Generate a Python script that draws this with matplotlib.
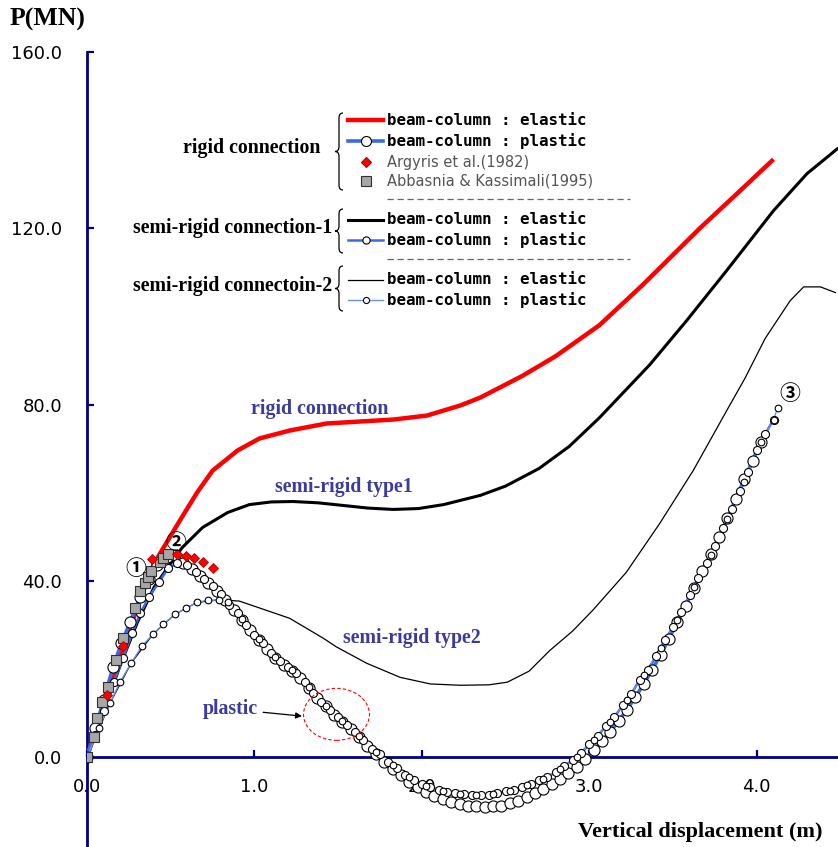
import matplotlib
matplotlib.use('Agg')
import matplotlib.pyplot as plt
from matplotlib.patches import Ellipse, PathPatch
from matplotlib.path import Path
from matplotlib.lines import Line2D

# ---- data (x: vertical displacement m, y: P in MN) ----

# rigid connection, beam-column elastic
rig_el_x = [0, 0.1, 0.2, 0.3, 0.39, 0.436, 0.555, 0.657, 0.75, 0.9, 1.03, 1.21, 1.43, 1.83,
            2.03, 2.23, 2.35, 2.6, 2.8, 3.06, 3.32, 3.66, 3.9, 4.09]
rig_el_y = [0, 12, 23, 34, 43, 46.2, 53.7, 60, 65, 69.6, 72.3, 74.1, 75.7, 76.6,
            77.5, 79.8, 81.6, 86.5, 91, 98, 107.2, 120, 128.5, 135.3]

# semi-rigid connection-1, beam-column elastic
s1_el_x = [0, 0.1, 0.2, 0.3, 0.4, 0.5, 0.57, 0.69, 0.84, 0.97, 1.1, 1.23, 1.38, 1.53, 1.68,
           1.83, 1.98, 2.13, 2.35, 2.5, 2.7, 2.88, 3.06, 3.36, 3.58, 3.82, 4.1, 4.3, 4.48]
s1_el_y = [0, 10.5, 21, 30.5, 38.5, 44, 47.6, 52.1, 55.5, 57.3, 57.9, 58, 57.7, 57.1, 56.5,
           56.2, 56.4, 57.3, 59.4, 61.5, 65.5, 70.5, 77, 89, 99, 110.4, 124, 132.4, 138]

# semi-rigid connection-2, beam-column elastic
s2_el_x = [0, 0.137, 0.263, 0.394, 0.525, 0.657, 0.79, 0.91, 1.21, 1.41, 1.49, 1.67, 1.87,
           2.05, 2.23, 2.4, 2.51, 2.64, 2.764, 2.9, 3.02, 3.22, 3.42, 3.62, 3.82, 3.93, 4.05,
           4.2, 4.28, 4.38, 4.47]
s2_el_y = [0, 12.2, 21.3, 27.9, 32.4, 35.1, 35.7, 35.4, 31.5, 27, 25, 21.3, 18.1,
           16.6, 16.3, 16.4, 17, 19.5, 24.2, 28.6, 33.3, 41.9, 53, 65, 78.6, 86, 95,
           103.6, 106.7, 106.7, 105.4]

# rigid connection, beam-column plastic
rig_pl_x = [0, 0.05, 0.1, 0.155, 0.205, 0.257, 0.316, 0.37, 0.42, 0.475, 0.525,
            0.575, 0.625, 0.675, 0.725, 0.775, 0.825, 0.875, 0.925, 0.975, 1.025,
            1.075, 1.125, 1.175, 1.225, 1.275, 1.325, 1.375, 1.425, 1.475, 1.525,
            1.575, 1.625, 1.675, 1.725, 1.775, 1.825, 1.875, 1.925, 1.975, 2.025,
            2.075, 2.125, 2.175, 2.225, 2.275, 2.325, 2.375, 2.425, 2.475, 2.525,
            2.575, 2.625, 2.675, 2.725, 2.775, 2.825, 2.875, 2.925, 2.975, 3.025,
            3.075, 3.125, 3.175, 3.225, 3.275, 3.325, 3.375, 3.425, 3.475, 3.525,
            3.575, 3.625, 3.675, 3.725, 3.775, 3.825, 3.875, 3.925, 3.975, 4.025]
rig_pl_y = [0, 6.5, 13, 20.4, 25.8, 30.6, 36.3, 40.5, 43.5, 45.5, 45.8,
            44.0, 42.6, 41.0, 39.5, 37.8, 35.6, 33.4, 31.0, 28.8, 26.6,
            24.6, 22.6, 21.0, 19.6, 18.0, 15.6, 13.4, 11.6, 9.6, 8.0,
            6.4, 4.6, 2.6, 0.6, -1.0, -2.6, -4.0, -5.6, -6.8, -7.9,
            -8.8, -9.5, -10.1, -10.6, -11.0, -11.2, -11.3, -11.2, -11.0, -10.5,
            -9.9, -9.1, -8.2, -7.3, -6.2, -5.0, -3.6, -2.2, -0.4, 1.5,
            3.6, 5.8, 8.2, 10.8, 13.6, 16.6, 19.8, 23.2, 26.8, 30.6,
            34.4, 38.4, 42.2, 46.0, 50.0, 54.2, 58.6, 63.0, 67.2, 71.5]

# semi-rigid connection-1, beam-column plastic
s1_pl_x = [0, 0.05, 0.1, 0.16, 0.215, 0.27, 0.317, 0.37, 0.43, 0.484, 0.537,
           0.60, 0.65, 0.70, 0.75, 0.80, 0.85, 0.90, 0.95, 1.00, 1.05, 1.10, 1.15,
           1.20, 1.25, 1.30, 1.35, 1.40, 1.45, 1.50, 1.55, 1.60, 1.65, 1.70, 1.75,
           1.80, 1.85, 1.90, 1.95, 2.00, 2.05, 2.10, 2.15, 2.20, 2.25, 2.30, 2.35,
           2.40, 2.45, 2.50, 2.55, 2.60, 2.65, 2.70, 2.75, 2.80, 2.85, 2.90, 2.95,
           3.00, 3.05, 3.10, 3.15, 3.20, 3.25, 3.30, 3.35, 3.40, 3.45, 3.50, 3.55,
           3.60, 3.65, 3.70, 3.75, 3.80, 3.85, 3.90, 3.95, 4.00, 4.05, 4.10]
s1_pl_y = [0, 5, 10.5, 17, 22.5, 28.1, 32.6, 36.3, 39.7, 42.8, 44.0,
           43.5, 42.0, 40.5, 38.8, 37.0, 34.6, 32.6, 30.0, 27.8, 25.8, 23.6, 21.9,
           20.4, 19.0, 17.0, 14.6, 12.6, 10.7, 9.0, 7.2, 5.8, 3.8, 1.9, 0.6,
           -1.0, -2.4, -4.0, -5.2, -6.1, -6.8, -7.4, -7.9, -8.2, -8.4, -8.6, -8.6,
           -8.5, -8.2, -7.8, -7.4, -6.8, -6.0, -5.3, -4.5, -3.4, -2.1, -0.7, 0.9,
           2.9, 4.9, 7.0, 9.1, 11.8, 14.3, 17.5, 19.7, 23.0, 26.5, 29.5, 33.0,
           36.8, 40.6, 44.0, 47.8, 52.0, 56.3, 60.3, 64.8, 69.8, 73.3, 76.6]

# semi-rigid connection-2, beam-column plastic
s2_pl_x = [0, 0.07, 0.137, 0.197, 0.263, 0.328, 0.394, 0.454, 0.525, 0.591, 0.657,
           0.72, 0.79, 0.84, 0.925, 1.025, 1.125, 1.225, 1.325, 1.425, 1.525, 1.625,
           1.725, 1.825, 1.925, 2.025, 2.125, 2.225, 2.325, 2.425, 2.525, 2.625,
           2.725, 2.825, 2.925, 3.025, 3.125, 3.225, 3.325, 3.425, 3.525, 3.625,
           3.725, 3.825, 3.925, 4.025, 4.10, 4.125]
s2_pl_y = [0, 6.5, 12.2, 17, 21.3, 25.2, 27.9, 30.1, 32.4, 33.8, 35.1,
           35.6, 35.6, 35.1, 31.3, 26.8, 22.8, 19.7, 15.8, 11.6, 8.1, 4.8,
           1.2, -1.7, -4.6, -6.5, -7.6, -8.3, -8.6, -8.4, -7.6, -6.4,
           -4.9, -2.8, 0.1, 3.9, 8.0, 13.0, 18.6, 24.7, 31.2, 38.7,
           45.9, 54.1, 62.5, 71.5, 76.6, 79.3]

# Argyris et al. (1982)
arg_x = [0.12, 0.215, 0.39, 0.54, 0.59, 0.64, 0.69, 0.75]
arg_y = [14, 25.2, 44.9, 46.0, 45.6, 45.1, 44.2, 42.9]

# Abbasnia & Kassimali (1995)
abb_x = [0, 0.04, 0.06, 0.09, 0.125, 0.173, 0.215, 0.287, 0.316, 0.346, 0.364,
         0.382, 0.436, 0.454, 0.484]
abb_y = [0, 4.5, 8.8, 12.5, 15.9, 22, 27, 33.8, 37.6, 39.4, 40.8,
         42.2, 44.2, 45.1, 46.0]

xticks = [0, 1, 2, 3, 4]
yticks = [0, 40, 80, 120, 160]

W, H = 838, 847
NAVY = '#000080'
BLUE = '#3a6ae8'
BLUE_LT = '#6b90f2'
ANN = '#3b3b9b'
SERIF = 'Liberation Serif'


def fx(px):
    return px / W


def fy(py):
    return 1 - py / H


fig = plt.figure(figsize=(W / 100, H / 100), dpi=100)
ax = fig.add_axes([87 / W, 0, 1 - 87 / W, 1 - 52 / H])
ax.set_xlim(0, 4.485)
ax.set_ylim(-20.4, 160)

# elastic curves
ax.plot(s2_el_x, s2_el_y, color='black', lw=0.9, zorder=3)
ax.plot(s1_el_x, s1_el_y, color='black', lw=2.2, zorder=3)
ax.plot(rig_el_x, rig_el_y, color='red', lw=3.2, zorder=3)

# plastic curves: lines first, then open circles on top
ax.plot(rig_pl_x, rig_pl_y, color=BLUE, lw=2.6, zorder=3)
ax.plot(s1_pl_x, s1_pl_y, color=BLUE, lw=1.8, zorder=3)
ax.plot(s2_pl_x, s2_pl_y, color=BLUE_LT, lw=1.0, zorder=3)
ax.plot(rig_pl_x, rig_pl_y, 'o', ms=8, mfc='white', mec='black', mew=0.8, zorder=4)
ax.plot(s1_pl_x, s1_pl_y, 'o', ms=5.8, mfc='white', mec='black', mew=0.8, zorder=4)
ax.plot(s2_pl_x, s2_pl_y, 'o', ms=4.8, mfc='white', mec='black', mew=0.8, zorder=4)

# experiments
ax.plot(abb_x, abb_y, 's', ms=7, mfc='#a6a6a6', mec='#303030', mew=0.8, zorder=5)
ax.plot(arg_x, arg_y, 'D', ms=5, mfc='red', mec='#b00000', mew=0.6, zorder=5)

# axes styling
for s in ['top', 'right']:
    ax.spines[s].set_visible(False)
ax.spines['bottom'].set_position(('data', 0))
for s in ['left', 'bottom']:
    ax.spines[s].set_color(NAVY)
    ax.spines[s].set_linewidth(2)
ax.set_xticks(xticks)
ax.set_xticklabels(['%.1f' % v for v in xticks])
ax.set_yticks(yticks)
ax.set_yticklabels(['%.1f' % v for v in yticks])
ax.tick_params(axis='both', direction='in', length=5, width=1.6, color=NAVY,
               labelsize=13)
ax.tick_params(axis='y', pad=18)
ax.tick_params(axis='x', pad=15)

# axis titles
fig.text(fx(10), fy(19), 'P(MN)', family=SERIF, weight='bold', fontsize=18.5,
         ha='left', va='center')
fig.text(fx(822), fy(832), 'Vertical displacement (m)', family=SERIF, weight='bold',
         fontsize=16, ha='right', va='center')

# in-plot annotations
ax.text(1.39, 79.1, 'rigid connection', color=ANN, family=SERIF, weight='bold',
        fontsize=14.3, ha='center', va='center')
ax.text(1.535, 61.2, 'semi-rigid type1', color=ANN, family=SERIF, weight='bold',
        fontsize=14.3, ha='center', va='center')
ax.text(1.94, 27.0, 'semi-rigid type2', color=ANN, family=SERIF, weight='bold',
        fontsize=14.3, ha='center', va='center')
ax.annotate('plastic', xy=(1.284, 9.3), xytext=(0.854, 10.9), color=ANN,
            family=SERIF, weight='bold', fontsize=14.3, ha='center', va='center',
            arrowprops=dict(arrowstyle='-|>', color='black', lw=0.9,
                            mutation_scale=9, shrinkA=2, shrinkB=0))
ax.add_patch(Ellipse((1.49, 9.7), 0.394, 11.8, fill=False, ec='red', lw=0.8,
                     ls=(0, (3, 2)), zorder=6))

circ_fam = ['Noto Sans CJK JP', 'DejaVu Sans']
ax.text(0.293, 42.8, '\u2460', family=circ_fam, fontsize=15, weight='bold',
        ha='center', va='center', zorder=7)
ax.text(0.531, 48.7, '\u2461', family=circ_fam, fontsize=15, weight='bold',
        ha='center', va='center', zorder=7)
ax.text(4.197, 82.5, '\u2462', family=circ_fam, fontsize=15, weight='bold',
        ha='center', va='center', zorder=7)


# ---- hand-made legend (figure pixel positions) ----
def brace(x_tip, y_top, y_bot):
    xm, xe, ym = x_tip + 4, x_tip + 8, (y_top + y_bot) / 2
    pts = [(xe, y_top), (xm, y_top), (xm, y_top + 5), (xm, ym - 5), (xm, ym),
           (x_tip, ym), (xm, ym), (xm, ym + 5), (xm, y_bot - 5), (xm, y_bot),
           (xe, y_bot)]
    codes = [Path.MOVETO, Path.CURVE3, Path.CURVE3, Path.LINETO, Path.CURVE3,
             Path.CURVE3, Path.CURVE3, Path.CURVE3, Path.LINETO, Path.CURVE3,
             Path.CURVE3]
    verts = [(fx(a), fy(b)) for a, b in pts]
    fig.add_artist(PathPatch(Path(verts, codes), transform=fig.transFigure,
                             fill=False, lw=0.9, ec='black'))


def sample(py, color, lw, marker=None, ms=0, ls='-'):
    fig.add_artist(Line2D([fx(348), fx(366), fx(383)], [fy(py)] * 3, color=color,
                          lw=lw, ls=ls, marker=marker, ms=ms, mfc='white',
                          mec='black', mew=0.8, markevery=[1],
                          transform=fig.transFigure))


def marker_only(py, marker, ms, fc, ec):
    fig.add_artist(Line2D([fx(366)], [fy(py)], ls='none', marker=marker, ms=ms,
                          mfc=fc, mec=ec, mew=0.8, transform=fig.transFigure))


def entry(py, label, bold=True):
    if bold:
        fig.text(fx(387), fy(py), label, family='DejaVu Sans Mono', weight='bold',
                 fontsize=11.4, ha='left', va='center')
    else:
        fig.text(fx(387), fy(py), label, family='DejaVu Sans', fontsize=10.5,
                 color='#555555', ha='left', va='center')


def dashes(py):
    fig.add_artist(Line2D([fx(387), fx(630)], [fy(py)] * 2, color='#666666', lw=0.9,
                          ls=(0, (5, 3)), transform=fig.transFigure))


fig.text(fx(320), fy(148), 'rigid connection', family=SERIF, weight='bold',
         fontsize=14.3, ha='right', va='center')
fig.text(fx(332), fy(228), 'semi-rigid connection-1', family=SERIF, weight='bold',
         fontsize=14.3, ha='right', va='center')
fig.text(fx(332), fy(286), 'semi-rigid connectoin-2', family=SERIF, weight='bold',
         fontsize=14.3, ha='right', va='center')
brace(335, 113, 190)
brace(335, 209, 253)
brace(335, 266, 311)

sample(120, 'red', 3.2)
entry(120, 'beam-column : elastic')
sample(141, BLUE, 2.6, 'o', 7.2)
entry(141, 'beam-column : plastic')
marker_only(162, 'D', 5, 'red', '#b00000')
entry(162, 'Argyris et al.(1982)', bold=False)
marker_only(181, 's', 7, '#a6a6a6', '#303030')
entry(181, 'Abbasnia & Kassimali(1995)', bold=False)
dashes(199)
sample(220, 'black', 2.2)
entry(220, 'beam-column : elastic')
sample(240, BLUE, 1.8, 'o', 5.2)
entry(240, 'beam-column : plastic')
dashes(259)
sample(280, 'black', 0.9)
entry(280, 'beam-column : elastic')
sample(300, BLUE_LT, 1.0, 'o', 4.4)
entry(300, 'beam-column : plastic')

fig.savefig('out.png', dpi=100)
